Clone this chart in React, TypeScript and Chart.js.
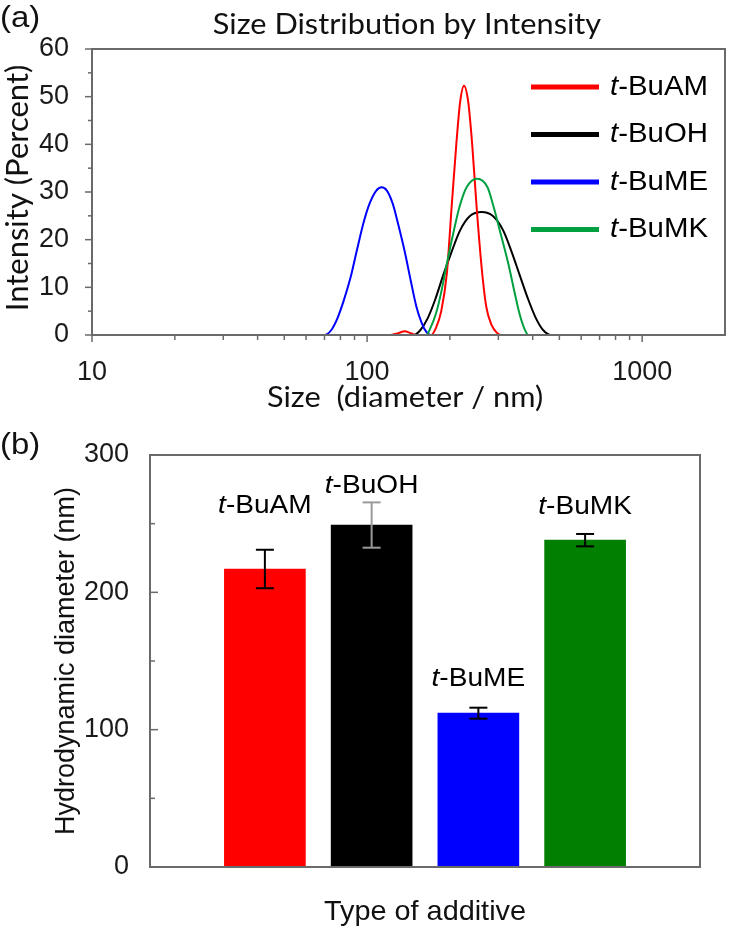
import React, { useEffect, useRef } from 'react';
import { Chart, registerables } from 'chart.js';

Chart.register(...registerables);

// ---------- Panel (a): size distribution by intensity ----------
const seriesNames = ['t-BuAM', 't-BuOH', 't-BuME', 't-BuMK'];

const amSize = [10, 122, 130, 137, 144, 151, 171, 178, 186, 195, 203, 211, 218, 225, 233, 241, 250, 261, 271, 284, 296, 307, 2000];
const amIntensity = [0, 0, 0.4, 0.8, 0.4, 0, 0, 1.5, 5, 13, 27, 40, 49, 52.3, 49, 40, 27, 14, 6, 2, 0.5, 0, 0];

const ohSize = [10, 148, 156, 166, 177, 189, 203, 218, 237, 261, 286, 312, 335, 359, 385, 411, 437, 466, 2000];
const ohIntensity = [0, 0, 1, 3.5, 7.5, 12.5, 17.5, 22, 25, 25.8, 25, 22, 17.5, 12.5, 7.5, 3.5, 1, 0, 0];

const meSize = [10, 70, 74, 78, 82, 87, 92, 97, 102, 108, 113, 118, 124, 130, 137, 144, 151, 158, 164, 170, 2000];
const meIntensity = [0, 0, 1, 3.5, 7, 12, 18, 23.5, 27.5, 30.3, 31, 30.3, 27.5, 23, 17.5, 11.5, 6, 2.5, 0.7, 0, 0];

const mkSize = [10, 164, 170, 178, 186, 195, 206, 217, 230, 251, 274, 288, 305, 326, 342, 358, 372, 386, 2000];
const mkIntensity = [0, 0, 1.5, 4.5, 9, 15, 21.5, 27, 31, 32.8, 31, 27, 21.5, 15, 9.5, 4.5, 1.5, 0, 0];

const xTickLabels = [10, 100, 1000];
const yTicksA = [0, 10, 20, 30, 40, 50, 60];

// ---------- Panel (b): hydrodynamic diameter ----------
const additives = ['t-BuAM', 't-BuOH', 't-BuME', 't-BuMK'];
const diameters = [217, 249, 112, 238];
const diameterErrors = [14, 16.5, 4, 4.5];
const yTicksB = [0, 100, 200, 300];

// ---------- styles ----------
const AXIS = '#6a6a6a';
const ARIAL = "'Liberation Sans', Arial, sans-serif";
const CALIBRI = "Lato, 'Open Sans', sans-serif";
const lineColors = ['#ff0000', '#000000', '#0000ff', '#00a040'];
const lineOrder = [3, 4, 2, 1];
const barColors = ['#ff0000', '#000000', '#0000ff', '#007f00'];
const errColors = ['#000000', '#9a9a9a', '#000000', '#000000'];
const barLabelLift = [44, 17, 29, 27];
const TOP_H = 420;
const BOT_H = 527;

function drawText(ctx: CanvasRenderingContext2D, text: string, x: number, y: number, font: string, align: CanvasTextAlign, sx: number) {
  ctx.save();
  ctx.translate(x, y);
  ctx.scale(sx, 1);
  ctx.font = font;
  ctx.textAlign = align;
  ctx.textBaseline = 'middle';
  ctx.fillStyle = '#111';
  ctx.fillText(text, 0, 0);
  ctx.restore();
}

function drawRich(ctx: CanvasRenderingContext2D, name: string, x: number, y: number, size: number, align: 'left' | 'center', sx: number) {
  const parts = [
    { t: name.slice(0, 1), f: `italic ${size}px ${ARIAL}` },
    { t: name.slice(1), f: `${size}px ${ARIAL}` },
  ];
  ctx.save();
  ctx.translate(x, y);
  ctx.scale(sx, 1);
  ctx.fillStyle = '#000';
  ctx.textBaseline = 'middle';
  ctx.textAlign = 'left';
  const widths = parts.map((p) => { ctx.font = p.f; return ctx.measureText(p.t).width; });
  const total = widths[0] + widths[1];
  let cx = align === 'center' ? -total / 2 : 0;
  parts.forEach((p, i) => { ctx.font = p.f; ctx.fillText(p.t, cx, 0); cx += widths[i]; });
  ctx.restore();
}

function seg(ctx: CanvasRenderingContext2D, x1: number, y1: number, x2: number, y2: number) {
  ctx.beginPath();
  ctx.moveTo(x1, y1);
  ctx.lineTo(x2, y2);
  ctx.stroke();
}

const decorA = {
  id: 'decorA',
  afterDraw(chart: any) {
    const { ctx, chartArea: a, scales } = chart;
    const x = scales.x, y = scales.y;
    ctx.save();
    ctx.strokeStyle = AXIS;
    ctx.lineWidth = 2;
    ctx.strokeRect(a.left, a.top, a.right - a.left, a.bottom - a.top);
    ctx.lineWidth = 1.5;
    for (let v = 0; v <= 60; v += 5) {
      const py = y.getPixelForValue(v);
      seg(ctx, a.left - (v % 10 === 0 ? 7 : 4), py, a.left, py);
    }
    for (let d = 10; d <= 1000; d *= 10) {
      for (let m = 1; m <= 9; m++) {
        const v = m * d;
        if (v > 1999) continue;
        const px = x.getPixelForValue(v);
        seg(ctx, px, a.bottom, px, a.bottom + (m === 1 ? 7 : 5));
      }
    }
    drawText(ctx, '(a)', 0, 19, `30px ${ARIAL}`, 'left', 1.1);
    drawText(ctx, 'Size Distribution by Intensity', 407, 25, `29px ${CALIBRI}`, 'center', 1.06);
    drawText(ctx, 'Size  (diameter / nm)', 405, 398, `29px ${CALIBRI}`, 'center', 1.06);
    ctx.save();
    ctx.translate(18, 188);
    ctx.rotate(-Math.PI / 2);
    drawText(ctx, 'Intensity (Percent)', 0, 0, `31px ${CALIBRI}`, 'center', 1);
    ctx.restore();
    // legend
    seriesNames.forEach((n, i) => {
      const ly = a.top + 38 + i * 47.5;
      ctx.strokeStyle = lineColors[i];
      ctx.lineWidth = 5;
      seg(ctx, 531, ly, 599, ly);
      drawRich(ctx, n, 610, ly, 28, 'left', 1.05);
    });
    ctx.restore();
  },
};

const decorB = {
  id: 'decorB',
  afterDraw(chart: any) {
    const { ctx, chartArea: a, scales } = chart;
    const y = scales.y;
    ctx.save();
    ctx.strokeStyle = AXIS;
    ctx.lineWidth = 2;
    ctx.strokeRect(a.left, a.top, a.right - a.left, a.bottom - a.top);
    ctx.lineWidth = 1.5;
    for (let v = 0; v <= 300; v += 50) {
      const py = y.getPixelForValue(v);
      seg(ctx, a.left, py, a.left + (v % 100 === 0 ? 8 : 5), py);
    }
    const meta = chart.getDatasetMeta(0);
    meta.data.forEach((bar: any, i: number) => {
      const top = y.getPixelForValue(diameters[i] + diameterErrors[i]);
      const bot = y.getPixelForValue(diameters[i] - diameterErrors[i]);
      ctx.strokeStyle = errColors[i];
      ctx.lineWidth = 2;
      seg(ctx, bar.x, top, bar.x, bot);
      seg(ctx, bar.x - 9, top, bar.x + 9, top);
      seg(ctx, bar.x - 9, bot, bar.x + 9, bot);
      drawRich(ctx, additives[i], bar.x, top - barLabelLift[i], 26, 'center', 1.08);
    });
    drawText(ctx, '(b)', 0, a.top - 9, `30px ${ARIAL}`, 'left', 1.1);
    drawText(ctx, 'Type of additive', (a.left + a.right) / 2, a.bottom + 45, `28px ${ARIAL}`, 'center', 1.03);
    ctx.save();
    ctx.translate(67, (a.top + a.bottom) / 2);
    ctx.rotate(-Math.PI / 2);
    drawText(ctx, 'Hydrodynamic diameter (nm)', 0, 0, `27px ${ARIAL}`, 'center', 1);
    ctx.restore();
    ctx.restore();
  },
};

export default function App() {
  const topRef = useRef<HTMLCanvasElement>(null);
  const botRef = useRef<HTMLCanvasElement>(null);

  useEffect(() => {
    const series = [
      { s: amSize, v: amIntensity },
      { s: ohSize, v: ohIntensity },
      { s: meSize, v: meIntensity },
      { s: mkSize, v: mkIntensity },
    ];
    const chartA = new Chart(topRef.current as HTMLCanvasElement, {
      type: 'line',
      data: {
        datasets: series.map((d, i) => ({
          label: seriesNames[i],
          data: d.s.map((sz, k) => ({ x: sz, y: d.v[k] })),
          borderColor: lineColors[i],
          borderWidth: 2,
          pointRadius: 0,
          fill: false,
          cubicInterpolationMode: 'monotone' as const,
          order: lineOrder[i],
        })),
      },
      options: {
        animation: false,
        responsive: false,
        devicePixelRatio: 1,
        layout: { padding: { top: 49, right: 4, left: 0, bottom: 0 } },
        plugins: { legend: { display: false }, title: { display: false }, tooltip: { enabled: false } },
        scales: {
          x: {
            type: 'logarithmic',
            min: 10,
            max: 2000,
            grid: { display: false },
            border: { display: false },
            afterBuildTicks: (s: any) => { s.ticks = xTickLabels.map((v) => ({ value: v })); },
            afterFit: (s: any) => { s.height = TOP_H - 335; },
            ticks: {
              autoSkip: false,
              maxRotation: 0,
              padding: 13,
              color: '#1a1a1a',
              font: { family: ARIAL, size: 27 },
              callback: (v: any) => String(v),
            },
          },
          y: {
            min: 0,
            max: 60,
            grid: { display: false },
            border: { display: false },
            afterBuildTicks: (s: any) => { s.ticks = yTicksA.map((v) => ({ value: v })); },
            afterFit: (s: any) => { s.width = 92; },
            ticks: { padding: 15, color: '#1a1a1a', font: { family: ARIAL, size: 27 } },
          },
        },
      },
      plugins: [decorA],
    } as any);

    const chartB = new Chart(botRef.current as HTMLCanvasElement, {
      type: 'bar',
      data: {
        datasets: [
          {
            label: 'Hydrodynamic diameter',
            data: additives.map((_, i) => ({ x: i, y: diameters[i] })),
            backgroundColor: barColors,
            borderWidth: 0,
            barThickness: 81,
          },
        ],
      },
      options: {
        animation: false,
        responsive: false,
        devicePixelRatio: 1,
        layout: { padding: { top: 455 - TOP_H, right: 29, left: 0, bottom: 0 } },
        plugins: { legend: { display: false }, title: { display: false }, tooltip: { enabled: false } },
        scales: {
          x: {
            type: 'linear',
            min: -0.79,
            max: 3.79,
            grid: { display: false },
            border: { display: false },
            ticks: { display: false },
            afterFit: (s: any) => { s.height = 947 - 867; },
          },
          y: {
            min: 0,
            max: 300,
            grid: { display: false },
            border: { display: false },
            afterBuildTicks: (s: any) => { s.ticks = yTicksB.map((v) => ({ value: v })); },
            afterFit: (s: any) => { s.width = 150; },
            ticks: { padding: 13, color: '#1a1a1a', font: { family: ARIAL, size: 27 } },
          },
        },
      },
      plugins: [decorB],
    } as any);

    return () => {
      chartA.destroy();
      chartB.destroy();
    };
  }, []);

  return (
    <div style={{ position: 'absolute', left: 0, top: 0, width: 729, height: 947, background: '#fff' }}>
      <canvas ref={topRef} width={729} height={TOP_H} style={{ display: 'block', width: 729, height: TOP_H }} />
      <canvas ref={botRef} width={729} height={BOT_H} style={{ display: 'block', width: 729, height: BOT_H }} />
    </div>
  );
}
